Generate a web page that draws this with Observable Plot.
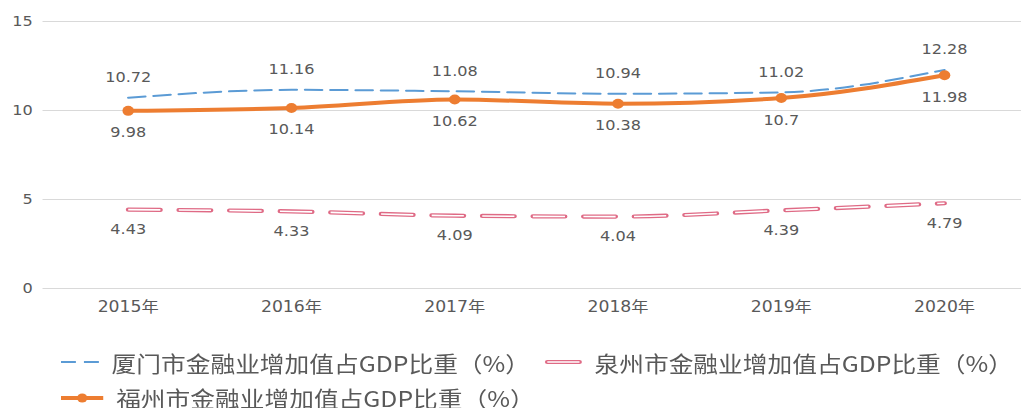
<!DOCTYPE html>
<html><head><meta charset="utf-8">
<script src="https://cdn.jsdelivr.net/npm/d3@7"></script>
<script src="https://cdn.jsdelivr.net/npm/@observablehq/plot@0.6"></script>
<style>
html,body{margin:0;padding:0;background:#fff;overflow:hidden}
#wrap{width:888px;transform:scaleX(1.1498);transform-origin:0 0;}
#legend{padding:14px 0 0 53px;font-family:"Noto Sans CJK SC",sans-serif;font-size:21.5px;color:#595959;}
#legend > div{white-space:nowrap}
#legend .row1{line-height:39px;height:39px}
#legend .row2{line-height:26px;height:26px;margin-top:4px}
.item{display:inline-flex;align-items:center;white-space:nowrap}
.item svg{margin-right:11px}
.item.second{margin-left:12px}
.item.second svg{margin-right:10px}
</style></head><body>
<div id="wrap"><div id="chart"></div><div id="legend"></div></div>
<script>
const years = ["2015年", "2016年", "2017年", "2018年", "2019年", "2020年"];
const xiamen = [10.72, 11.16, 11.08, 10.94, 11.02, 12.28];
const quanzhou = [4.43, 4.33, 4.09, 4.04, 4.39, 4.79];
const fuzhou = [9.98, 10.14, 10.62, 10.38, 10.7, 11.98];
const yTicks = [0, 5, 10, 15];
const seriesNames = ["厦门市金融业增加值占GDP比重（%）", "泉州市金融业增加值占GDP比重（%）", "福州市金融业增加值占GDP比重（%）"];

const rows = vals => years.map((year, i) => ({year, value: vals[i]}));
const xm = rows(xiamen), qz = rows(quanzhou), fz = rows(fuzhou);
const enc = {x: "year", y: "value", curve: "monotone-x"};
const lbl = {x: "year", y: "value", text: d => String(d.value), fill: "#595959"};

const chart = Plot.plot({
  width: 888, height: 325,
  marginLeft: 37, marginRight: 0, marginTop: 21, marginBottom: 37,
  style: {fontFamily: "'DejaVu Sans','Noto Sans CJK SC',sans-serif", fontSize: "14px", color: "#595959", background: "#fff"},
  x: {type: "point", domain: years, range: [109.6, 821.9], padding: 0, axis: null},
  y: {domain: [0, 15], axis: null},
  marks: [
    Plot.gridY(yTicks, {stroke: "#d9d9d9", strokeOpacity: 1, strokeWidth: 1}),
    Plot.axisY(yTicks, {tickSize: 0, tickPadding: 9, label: null}),
    Plot.axisX(years, {tickSize: 0, tickPadding: 13, label: null, fontSize: 15}),
    Plot.line(qz, {...enc, stroke: "#df6a85", strokeWidth: 4.2, strokeDasharray: "28,16", strokeLinecap: "round"}),
    Plot.line(qz, {...enc, stroke: "#fff", strokeWidth: 1.6, strokeDasharray: "28,16", strokeLinecap: "butt"}),
    Plot.line(xm, {...enc, stroke: "#5b9bd5", strokeWidth: 2, strokeDasharray: "15,7"}),
    Plot.line(fz, {...enc, stroke: "#ed7d31", strokeWidth: 4}),
    Plot.dot(fz, {x: "year", y: "value", r: 5, fill: "#ed7d31"}),
    Plot.text(xm, {...lbl, dy: -20}),
    Plot.text(fz, {...lbl, dy: 22}),
    Plot.text(qz, {...lbl, dy: 20})
  ]
});
document.getElementById("chart").appendChild(chart);

const samples = [
  `<svg width="33" height="12"><line x1="0" y1="6" x2="33" y2="6" stroke="#5b9bd5" stroke-width="2" stroke-dasharray="13,7"/></svg>`,
  `<svg width="34" height="12"><line x1="3" y1="6" x2="31" y2="6" stroke="#df6a85" stroke-width="4.2" stroke-linecap="round"/><line x1="3" y1="6" x2="31" y2="6" stroke="#fff" stroke-width="1.6"/></svg>`,
  `<svg width="37" height="12"><line x1="0" y1="6" x2="37" y2="6" stroke="#ed7d31" stroke-width="4"/><circle cx="18.5" cy="6" r="4.5" fill="#ed7d31"/></svg>`
];
const legend = document.getElementById("legend");
legend.innerHTML =
  `<div class="row1"><span class="item">${samples[0]}<span>${seriesNames[0]}</span></span><span class="item second">${samples[1]}<span>${seriesNames[1]}</span></span></div>` +
  `<div class="row2"><span class="item">${samples[2]}<span>${seriesNames[2]}</span></span></div>`;
</script>
</body></html>
